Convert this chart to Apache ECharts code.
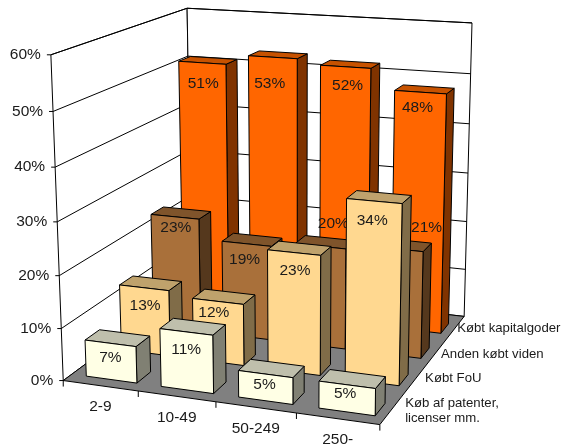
<!DOCTYPE html>
<html><head><meta charset="utf-8">
<style>html,body{margin:0;padding:0;background:#fff}#c{width:563px;height:448px}</style>
<script src="https://cdn.jsdelivr.net/npm/echarts@6/dist/echarts.min.js"></script>
</head><body><div id="c"></div>
<script>
const categories = ['2-9','10-49','50-249','250-'];
const valueTicks = [0,10,20,30,40,50,60];
const patenter = [7,11,5,5];
const fou = [13,12,23,34];
const viden = [23,19,20,21];
const kapital = [51,53,52,48];
const depthNames = ['Køb af patenter,\nlicenser mm.','Købt FoU','Anden købt viden','Købt kapitalgoder'];

const FONT = '"Liberation Sans", Arial, sans-serif';
// camera: unit cube corners [u,v,w] -> pixel
const camera = [
 [0,0,0,63,380],[1,0,0,380,425],[1,1,0,464,316],[0,1,0,192,286],
 [0,0,1,51,55],[0,1,1,187,8],[1,1,1,472,23]
];
// data label nudges (px from the top middle of the bar's front face), by depth row then category
const labelDx = [[0,0,-1,-2],[1,-4,1,-2],[1,-2,13,30],[1,-3,2,-3]];
const labelDy = [[14,18,11,9],[18,11,18,20],[11,16,-23,-21],[21,26,19,16]];
const depthLabelDx = [13,10,5,2];
const depthLabelDy = [2,-1,2,0];
function solveCamera(){
  const S=500,A=[],b=[];
  camera.forEach(([u,v,w,x,y])=>{x/=S;y/=S;
    A.push([u,v,w,1,0,0,0,0,-x*u,-x*v,-x*w]);b.push(x);
    A.push([0,0,0,0,u,v,w,1,-y*u,-y*v,-y*w]);b.push(y);});
  const n=11,M=[];
  for(let i=0;i<n;i++){const r=[];for(let j=0;j<n;j++){let s=i===j?1e-9:0;A.forEach(a=>s+=a[i]*a[j]);r.push(s);}
    let s=0;A.forEach((a,k)=>s+=a[i]*b[k]);r.push(s);M.push(r);}
  for(let i=0;i<n;i++){let p=i;for(let k=i+1;k<n;k++)if(Math.abs(M[k][i])>Math.abs(M[p][i]))p=k;
    [M[i],M[p]]=[M[p],M[i]];
    for(let k=0;k<n;k++){if(k===i)continue;const f=M[k][i]/M[i][i];for(let j=i;j<=n;j++)M[k][j]-=f*M[i][j];}}
  const m=M.map((r,i)=>r[n]/r[i]);
  return (u,v,w)=>{const d=m[8]*u+m[9]*v+m[10]*w+1;
    return [S*(m[0]*u+m[1]*v+m[2]*w+m[3])/d,S*(m[4]*u+m[5]*v+m[6]*w+m[7])/d];};
}
const P=solveCamera();
const GAP_U=0.16,SHIFT_U=0.009,V_FRONT=0.23,V_BACK=0.63,EDGE='#000';
const N=categories.length,D=depthNames.length;
const palette=[
 {front:'#FFFFE5',side:'#808073',top:'#BFBFAC'},
 {front:'#FFD890',side:'#806C48',top:'#BFA26C'},
 {front:'#A9703A',side:'#55381D',top:'#7F542B'},
 {front:'#FF6600',side:'#803300',top:'#C75200'}
];
const poly=(pts,fill,lw)=>({type:'polygon',silent:true,shape:{points:pts},style:{fill,stroke:EDGE,lineWidth:lw==null?1:lw,lineJoin:'round'}});
const line=(a,b,lw,c)=>({type:'line',silent:true,shape:{x1:a[0],y1:a[1],x2:b[0],y2:b[1]},style:{stroke:c||EDGE,lineWidth:lw||1}});
const text=(t,x,y,size,align)=>({type:'text',silent:true,style:{text:t,x,y,font:size+'px '+FONT,fill:'#1a1a1a',textAlign:align||'center',textVerticalAlign:'middle',lineHeight:15}});

function normW(api,v){const a=api.coord([0,0])[1],b=api.coord([0,60])[1];return (api.coord([0,v])[1]-a)/(b-a);}

function barItem(d){return function(params,api){
  const c=api.value(0),val=api.value(1),w=normW(api,val);
  const p=palette[d];
  const u0=(c+GAP_U)/N+SHIFT_U,u1=(c+1-GAP_U)/N+SHIFT_U,v0=(d+V_FRONT)/D,v1=(d+V_BACK)/D;
  const a=P(u0,v0,0),b=P(u1,v0,0),e=P(u1,v1,0),at=P(u0,v0,w),bt=P(u1,v0,w),et=P(u1,v1,w),ft=P(u0,v1,w);
  const lab=P((u0+u1)/2,v0,w);
  return {type:'group',children:[
    poly([b,e,et,bt],p.side),
    poly([at,bt,et,ft],p.top),
    poly([a,b,bt,at],p.front),
    text(val+'%',lab[0]+labelDx[d][c],lab[1]+labelDy[d][c],15.5)
  ]};
};}

function frameItem(params,api){
  const ch=[];
  ch.push(poly([P(0,0,0),P(0,1,0),P(0,1,1),P(0,0,1)],'#fff'));
  ch.push(poly([P(0,1,0),P(1,1,0),P(1,1,1),P(0,1,1)],'#fff'));
  ch.push(poly([P(0,0,0),P(1,0,0),P(1,1,0),P(0,1,0)],'#808080'));
  valueTicks.forEach(t=>{const w=normW(api,t);
    if(t>0){ch.push(line(P(0,0,w),P(0,1,w)));ch.push(line(P(0,1,w),P(1,1,w)));}
    const q=P(0,0,w);
    ch.push(line([q[0]-4,q[1]],q));
    ch.push(text(t+'%',q[0]-10,q[1],15.5,'right'));
  });
  for(let i=0;i<=N;i++){const q=P(i/N,0,0);ch.push(line(q,[q[0],q[1]+6]));}
  categories.forEach((n,i)=>{const q=P((i+.5)/N,0,0);ch.push(text(n,q[0],q[1]+21,15.5));});
  depthNames.forEach((n,d)=>{const q=P(1,(d+.5)/D,0);ch.push(text(n,q[0]+depthLabelDx[d],q[1]+depthLabelDy[d],13.2,'left'));});
  return {type:'group',children:ch};
}

const seriesVals=[patenter,fou,viden,kapital];
const series=[{type:'custom',name:'frame',silent:true,clip:false,z:1,animation:false,data:[[0,0]],encode:{x:0,y:1},renderItem:frameItem}];
for(let d=D-1;d>=0;d--){
  series.push({type:'custom',name:depthNames[d],silent:true,clip:false,z:2,animation:false,
    data:seriesVals[d].map((v,i)=>[i,v]).reverse(),encode:{x:0,y:1},renderItem:barItem(d)});
}
const chart=echarts.init(document.getElementById('c'),null,{renderer:'canvas'});
chart.setOption({backgroundColor:'#fff',animation:false,tooltip:{show:false},legend:{show:false},
  grid:{left:60,right:100,top:60,bottom:60,show:false},
  xAxis:{type:'category',data:categories,show:false},
  yAxis:{type:'value',min:0,max:60,interval:10,show:false},
  series});
</script></body></html>
